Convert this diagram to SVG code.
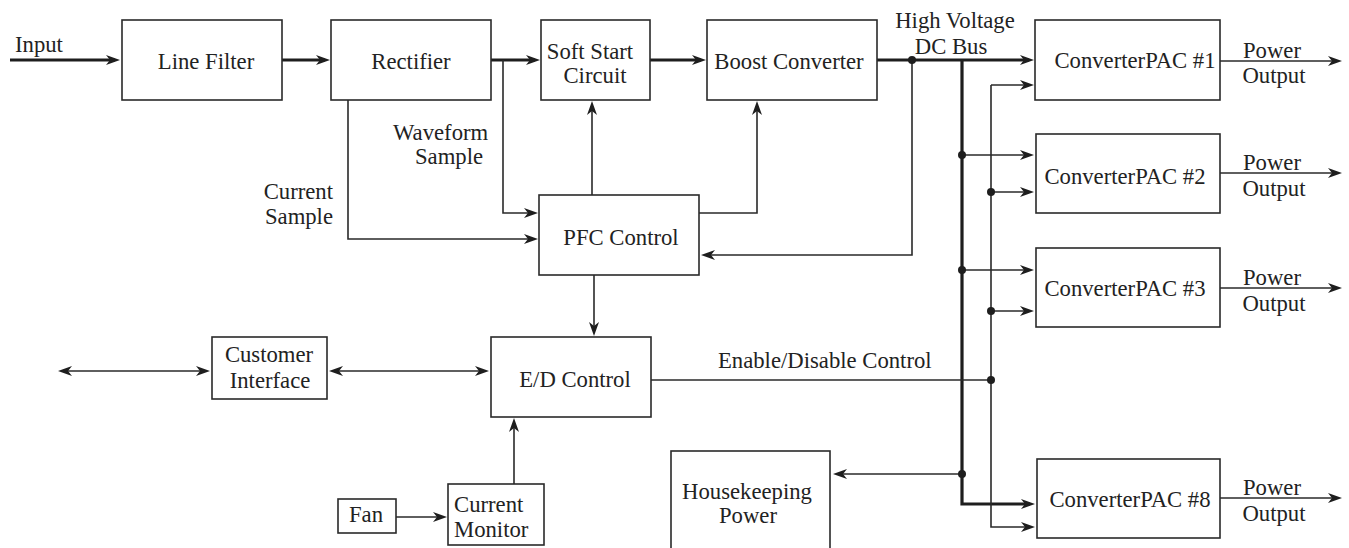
<svg xmlns="http://www.w3.org/2000/svg" width="1349" height="548" viewBox="0 0 1349 548">
<style>
.box{fill:#fff;stroke:#2a2a2a;stroke-width:1.6}
.t{font-family:"Liberation Serif","Times New Roman",serif;font-size:22.7px;fill:#222}
.m{text-anchor:middle}
.e{text-anchor:end}
.thin{fill:none;stroke:#2a2a2a;stroke-width:1.6}
.thick{fill:none;stroke:#1e1e1e;stroke-width:3.2}
.dot{fill:#1e1e1e}
</style>
<defs>
<marker id="ah" markerUnits="userSpaceOnUse" markerWidth="16" markerHeight="12" viewBox="0 -6 16 12" refX="9" refY="0" orient="auto-start-reverse">
<path d="M14,0 L0,-5 L4,0 L0,5 Z" fill="#1e1e1e"/>
</marker>
</defs>
<rect width="1349" height="548" fill="#fff"/>

<g id="connectors">
<path class="thick" d="M10,60 H115" marker-end="url(#ah)"/>
<path class="thick" d="M282,60 H325" marker-end="url(#ah)"/>
<path class="thick" d="M491,60 H535" marker-end="url(#ah)"/>
<path class="thick" d="M650,60 H701" marker-end="url(#ah)"/>
<path class="thick" d="M877,60 H1029" marker-end="url(#ah)"/>
<path class="thick" d="M962,60 V504 H1030" marker-end="url(#ah)"/>
<path class="thin" d="M503,60 V213 H533" marker-end="url(#ah)"/>
<path class="thin" d="M348,100 V239 H533" marker-end="url(#ah)"/>
<path class="thin" d="M592,195 V106" marker-end="url(#ah)"/>
<path class="thin" d="M699,213 H757 V106" marker-end="url(#ah)"/>
<path class="thin" d="M912,60 V255 H706" marker-end="url(#ah)"/>
<path class="thin" d="M594,275 V331" marker-end="url(#ah)"/>
<path class="thin" d="M514,484 V423" marker-end="url(#ah)"/>
<path class="thin" d="M396,517 H442" marker-end="url(#ah)"/>
<path class="thin" d="M63,371 H205" marker-start="url(#ah)" marker-end="url(#ah)"/>
<path class="thin" d="M334,371 H484" marker-start="url(#ah)" marker-end="url(#ah)"/>
<path class="thin" d="M651,380 H991"/>
<path class="thin" d="M991,85 H1029" marker-end="url(#ah)"/>
<path class="thin" d="M991,85 V527 H1030" marker-end="url(#ah)"/>
<path class="thin" d="M962,155 H1029" marker-end="url(#ah)"/>
<path class="thin" d="M991,192 H1029" marker-end="url(#ah)"/>
<path class="thin" d="M962,270 H1029" marker-end="url(#ah)"/>
<path class="thin" d="M991,311 H1029" marker-end="url(#ah)"/>
<path class="thin" d="M962,474 H838" marker-end="url(#ah)"/>
<path class="thin" d="M1220,61 H1337" marker-end="url(#ah)"/>
<path class="thin" d="M1220,173 H1337" marker-end="url(#ah)"/>
<path class="thin" d="M1220,288 H1337" marker-end="url(#ah)"/>
<path class="thin" d="M1220,498 H1337" marker-end="url(#ah)"/>
<circle class="dot" cx="912" cy="60" r="4"/>
<circle class="dot" cx="962" cy="155" r="4"/>
<circle class="dot" cx="991" cy="192" r="4"/>
<circle class="dot" cx="962" cy="270" r="4"/>
<circle class="dot" cx="991" cy="311" r="4"/>
<circle class="dot" cx="991" cy="380" r="4"/>
<circle class="dot" cx="962" cy="474" r="4"/>
<text class="t" x="15" y="52">Input</text>
<text class="t" x="393" y="140">Waveform</text>
<text class="t" x="415" y="164">Sample</text>
<text class="t e" x="333" y="199">Current</text>
<text class="t e" x="333" y="224">Sample</text>
<text class="t m" x="955" y="28">High Voltage</text>
<text class="t m" x="951" y="54">DC Bus</text>
<text class="t" x="718" y="368">Enable/Disable Control</text>
<text class="t m" x="1272" y="58">Power</text>
<text class="t m" x="1274" y="83">Output</text>
<text class="t m" x="1272" y="170">Power</text>
<text class="t m" x="1274" y="196">Output</text>
<text class="t m" x="1272" y="285">Power</text>
<text class="t m" x="1274" y="311">Output</text>
<text class="t m" x="1272" y="495">Power</text>
<text class="t m" x="1274" y="521">Output</text>
</g>

<g id="line-filter"><rect class="box" x="122" y="20" width="160" height="80"/><text class="t m" x="206" y="69">Line Filter</text></g>
<g id="rectifier"><rect class="box" x="331" y="20" width="160" height="80"/><text class="t m" x="411" y="69">Rectifier</text></g>
<g id="soft-start"><rect class="box" x="541" y="20" width="109" height="80"/><text class="t m" x="590" y="59">Soft Start</text><text class="t m" x="595" y="83">Circuit</text></g>
<g id="boost"><rect class="box" x="707" y="20" width="170" height="80"/><text class="t m" x="789" y="69">Boost Converter</text></g>
<g id="pfc"><rect class="box" x="539" y="195" width="160" height="80"/><text class="t m" x="621" y="245">PFC Control</text></g>
<g id="ed"><rect class="box" x="491" y="337" width="160" height="80"/><text class="t m" x="575" y="387">E/D Control</text></g>
<g id="customer"><rect class="box" x="212" y="337" width="115" height="62"/><text class="t m" x="269" y="362">Customer</text><text class="t m" x="270" y="388">Interface</text></g>
<g id="fan"><rect class="box" x="338" y="499" width="58" height="34"/><text class="t m" x="366" y="522">Fan</text></g>
<g id="current-monitor"><rect class="box" x="448" y="484" width="96" height="61"/><text class="t" x="454" y="512">Current</text><text class="t" x="454" y="537">Monitor</text></g>
<g id="housekeeping"><rect class="box" x="671" y="451" width="159" height="110"/><text class="t m" x="747" y="499">Housekeeping</text><text class="t m" x="748" y="523">Power</text></g>
<g id="pac1"><rect class="box" x="1035" y="20" width="185" height="80"/><text class="t m" x="1135" y="68">ConverterPAC #1</text></g>
<g id="pac2"><rect class="box" x="1036" y="134" width="184" height="79"/><text class="t m" x="1125" y="184">ConverterPAC #2</text></g>
<g id="pac3"><rect class="box" x="1036" y="248" width="184" height="79"/><text class="t m" x="1125" y="296">ConverterPAC #3</text></g>
<g id="pac8"><rect class="box" x="1037" y="459" width="183" height="79"/><text class="t m" x="1130" y="507">ConverterPAC #8</text></g>
</svg>
